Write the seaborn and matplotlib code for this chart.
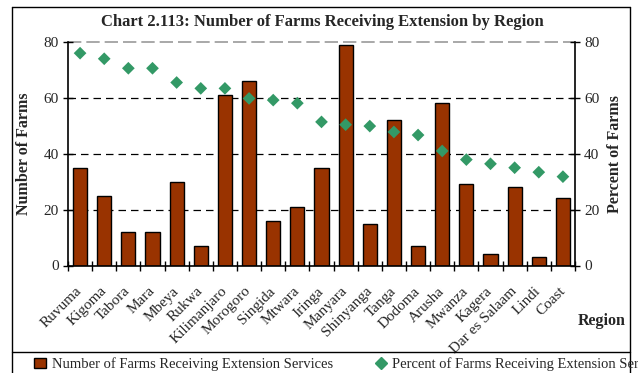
import matplotlib
matplotlib.use("Agg")
import matplotlib.pyplot as plt
from matplotlib.lines import Line2D
from matplotlib.patches import Patch
import numpy as np
import pandas as pd
import seaborn as sns

regions = ["Ruvuma", "Kigoma", "Tabora", "Mara", "Mbeya", "Rukwa", "Kilimanjaro",
           "Morogoro", "Singida", "Mtwara", "Iringa", "Manyara", "Shinyanga", "Tanga",
           "Dodoma", "Arusha", "Mwanza", "Kagera", "Dar es Salaam", "Lindi", "Coast"]
num_farms = [35, 25, 12, 12, 30, 7, 61, 66, 16, 21, 35, 79, 15, 52, 7, 58, 29, 4, 28, 3, 24]
pct_farms = [76, 74, 70.6, 70.6, 65.5, 63.4, 63.4, 59.8, 59.2, 58.1, 51.4, 50.4, 49.9,
             47.8, 46.7, 41, 37.9, 36.4, 35, 33.4, 31.8]
y_ticks = [0, 20, 40, 60, 80]

bar_name = "Number of Farms Receiving Extension Services"
pct_name = "Percent of Farms Receiving Extension Services"

df = pd.DataFrame({"Region": regions, "Farms": num_farms, "Percent": pct_farms})

sns.set_theme(style="white")
plt.rcParams["font.family"] = ["Liberation Serif", "DejaVu Serif"]

W, H = 638, 373
fig = plt.figure(figsize=(W / 100, H / 100), dpi=100)
ax = fig.add_axes([68 / W, 1 - 265.5 / H, (575 - 68) / W, (265.5 - 42) / H])

BROWN = "#993300"
GREEN = "#339966"

sns.barplot(data=df, x="Region", y="Farms", color=BROWN, edgecolor="black",
            linewidth=1.0, width=0.58, saturation=1, ax=ax)

ax2 = ax.twinx()
sns.scatterplot(data=df, x="Region", y="Percent", marker="D", color=GREEN,
                s=42, edgecolor="none", ax=ax2, zorder=5)

for a in (ax, ax2):
    a.set_ylim(0, 80)
    a.set_yticks(y_ticks)
    a.set_ylabel("")
    a.set_xlabel("")
ax.set_xlim(-0.5, len(regions) - 0.5)

# reference lines
for v in y_ticks[1:-1]:
    ax.axhline(v, color="black", lw=0.9, ls=(0, (6, 4)), zorder=0)
ax.axhline(80, color="#999999", lw=1.2, ls=(0, (8, 3)), zorder=0, clip_on=False)

for a in (ax, ax2):
    a.spines["top"].set_visible(False)
ax.spines["right"].set_visible(False)
ax2.spines["left"].set_visible(False)
ax2.spines["bottom"].set_visible(False)
for sp in ("left", "bottom"):
    ax.spines[sp].set_color("black")
    ax.spines[sp].set_linewidth(1.2)
ax2.spines["right"].set_color("black")
ax2.spines["right"].set_linewidth(1.2)

# category labels at centres, tick marks on category boundaries
ax.set_xticks(range(len(regions)))
ax.set_xticklabels(regions, rotation=45, ha="right", va="center",
                   rotation_mode="anchor", fontsize=11)
ax.set_xticks(np.arange(-0.5, len(regions), 1.0), minor=True)
ax.tick_params(axis="x", which="major", bottom=True, length=0, pad=17)
ax.tick_params(axis="x", which="minor", bottom=True, direction="inout", length=7,
               width=1, color="black")
ax.tick_params(axis="y", direction="inout", length=7, width=1, color="black", left=True,
               labelsize=11, pad=3)
ax2.tick_params(axis="y", direction="inout", length=7, width=1, color="black", right=True,
                labelsize=11, pad=3)

fig.text(24 / W, 1 - 154 / H, "Number of Farms", rotation=90, ha="center", va="center",
         fontsize=11.5, fontweight="bold")
fig.text(615 / W, 1 - 154 / H, "Percent of Farms", rotation=90, ha="center", va="center",
         fontsize=11.5, fontweight="bold")
fig.text(602 / W, 1 - 321 / H, "Region", ha="center", va="center",
         fontsize=11.5, fontweight="bold")
fig.text(322 / W, 1 - 22 / H, "Chart 2.113: Number of Farms Receiving Extension by Region",
         ha="center", va="center", fontsize=12, fontweight="bold")

# outer frame and legend divider
frame_kw = dict(color="black", lw=1.0, transform=fig.transFigure)
x0, x1, ytop, ysep = 12 / W, 630 / W, 1 - 6.5 / H, 1 - 352 / H
fig.add_artist(Line2D([x0, x1], [ytop, ytop], **frame_kw))
fig.add_artist(Line2D([x0, x0], [ytop, 0], **frame_kw))
fig.add_artist(Line2D([x1, x1], [ytop, 0], **frame_kw))
fig.add_artist(Line2D([x0, x1], [ysep, ysep], **frame_kw))

handles = [Patch(facecolor=BROWN, edgecolor="black", linewidth=1.0),
           Line2D([], [], marker="D", color=GREEN, linestyle="none", markersize=6)]
fig.legend(handles, [bar_name, pct_name], loc="center left",
           bbox_to_anchor=(34 / W, 1 - 364 / H), ncol=2, frameon=False, fontsize=10.5,
           handlelength=0.8, handletextpad=0.4, columnspacing=2.9, borderpad=0,
           borderaxespad=0)

fig.savefig("out.png", dpi=100)
